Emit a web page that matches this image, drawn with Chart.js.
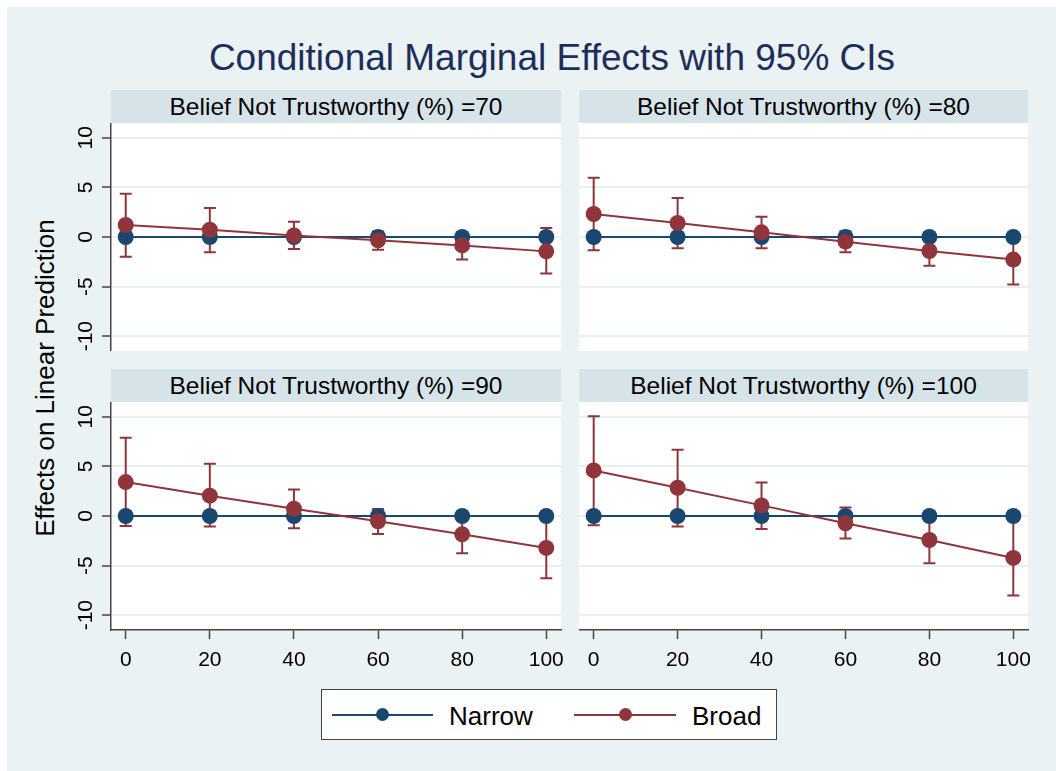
<!DOCTYPE html>
<html>
<head>
<meta charset="utf-8">
<script src="https://cdn.jsdelivr.net/npm/chart.js@4.4.1/dist/chart.umd.min.js"></script>
<style>
html,body{margin:0;padding:0;background:#fff;}
#root{position:relative;width:1056px;height:771px;overflow:hidden;font-family:"Liberation Sans",Arial,Helvetica,sans-serif;}
#bg{position:absolute;left:7px;top:7px;right:0;bottom:0;background:#eaf2f3;}
#title{position:absolute;left:52px;width:1000px;top:38.7px;height:37px;line-height:37px;text-align:center;font-size:37px;color:#1e2e5c;white-space:nowrap;}
.strip{position:absolute;height:33px;line-height:33px;background:#d6e4e9;text-align:center;font-size:24.5px;color:#000;white-space:nowrap;}
canvas{position:absolute;}
#ytitle{position:absolute;left:-155px;top:365px;width:400px;height:26px;line-height:26px;font-size:26px;text-align:center;transform:rotate(-90deg);transform-origin:200px 13px;color:#000;white-space:nowrap;}
#legend{position:absolute;left:321px;top:689px;width:456px;height:51px;background:#fff;border:1px solid #444;box-sizing:border-box;}
.lgline{position:absolute;height:2px;}
.lgdot{position:absolute;width:13px;height:13px;border-radius:50%;}
.lgtext{position:absolute;font-size:26px;line-height:26px;height:26px;color:#000;white-space:nowrap;}
</style>
</head>
<body>
<div id="root">
  <div id="bg"></div>
  <div id="title">Conditional Marginal Effects with 95% CIs</div>
  <div id="ytitle">Effects on Linear Prediction</div>
  <div id="legend"></div>
</div>
<script>
// ---------- data ----------
const xValues = [0, 20, 40, 60, 80, 100];
const xTicks = [0, 20, 40, 60, 80, 100];
const yTicks = [-10, -5, 0, 5, 10];
const seriesNames = ['Narrow', 'Broad'];
const seriesColors = ['#1a476f', '#90353b'];
const panelTitles = [
  'Belief Not Trustworthy (%) =70',
  'Belief Not Trustworthy (%) =80',
  'Belief Not Trustworthy (%) =90',
  'Belief Not Trustworthy (%) =100'
];

const narrow70  = [0, 0, 0, 0, 0, 0];
const narrow80  = [0, 0, 0, 0, 0, 0];
const narrow90  = [0, 0, 0, 0, 0, 0];
const narrow100 = [0, 0, 0, 0, 0, 0];

const broad70   = [1.21, 0.73, 0.16, -0.34, -0.85, -1.45];
const broad70Lo = [-1.98, -1.55, -1.21, -1.28, -2.26, -3.67];
const broad70Hi = [4.36, 2.92, 1.54, 0.56, 0.50, 0.90];

const broad80   = [2.32, 1.41, 0.47, -0.47, -1.41, -2.28];
const broad80Lo = [-1.34, -1.14, -1.14, -1.54, -2.89, -4.80];
const broad80Hi = [5.97, 3.93, 2.05, 0.57, 0.07, 0.24];

const broad90   = [3.42, 2.05, 0.74, -0.54, -1.85, -3.22];
const broad90Lo = [-1.01, -1.07, -1.24, -1.81, -3.76, -6.28];
const broad90Hi = [7.89, 5.27, 2.68, 0.70, 0.06, -0.16];

const broad100   = [4.60, 2.85, 1.07, -0.74, -2.42, -4.23];
const broad100Lo = [-0.94, -1.07, -1.31, -2.28, -4.77, -8.02];
const broad100Hi = [10.07, 6.68, 3.39, 0.87, -0.07, -0.44];

const panelData = [
  {narrow: narrow70,  broad: broad70,  lo: broad70Lo,  hi: broad70Hi},
  {narrow: narrow80,  broad: broad80,  lo: broad80Lo,  hi: broad80Hi},
  {narrow: narrow90,  broad: broad90,  lo: broad90Lo,  hi: broad90Hi},
  {narrow: narrow100, broad: broad100, lo: broad100Lo, hi: broad100Hi}
];

// ---------- layout ----------
const X_MIN = -3.5, X_MAX = 103.5, Y_MIN = -11.5, Y_MAX = 11.5;
const panelLayout = [
  {plotLeft: 111, plotRight: 561, plotTop: 123, leftAxis: true,  bottomAxis: false},
  {plotLeft: 579, plotRight: 1028, plotTop: 123, leftAxis: false, bottomAxis: false},
  {plotLeft: 111, plotRight: 561, plotTop: 402, leftAxis: true,  bottomAxis: true},
  {plotLeft: 579, plotRight: 1028, plotTop: 402, leftAxis: false, bottomAxis: true}
];
const PLOT_H = 228, Y_AXIS_W = 51, X_AXIS_H = 44, PAD_R = 20, STRIP_H = 33;
const AXIS_COLOR = '#444', GRID_COLOR = '#e6eff1';
const FONT = '"Liberation Sans", Arial, Helvetica, sans-serif';

const root = document.getElementById('root');

const decor = {
  id: 'decor',
  beforeDraw(chart) {
    const a = chart.chartArea, ctx = chart.ctx;
    ctx.save();
    ctx.fillStyle = '#ffffff';
    ctx.fillRect(a.left, a.top, a.right - a.left, a.bottom - a.top);
    ctx.restore();
  },
  beforeDatasetsDraw(chart) {
    const ctx = chart.ctx, xs = chart.scales.x, ys = chart.scales.y;
    chart.data.datasets.forEach(ds => {
      if (!ds.errLo) return;
      ctx.save();
      ctx.strokeStyle = ds.borderColor;
      ctx.lineWidth = 2;
      ds.data.forEach((p, i) => {
        const x = xs.getPixelForValue(p.x);
        const y1 = ys.getPixelForValue(ds.errLo[i]);
        const y2 = ys.getPixelForValue(ds.errHi[i]);
        ctx.beginPath();
        ctx.moveTo(x, y1); ctx.lineTo(x, y2);
        ctx.moveTo(x - 6, y1); ctx.lineTo(x + 6, y1);
        ctx.moveTo(x - 6, y2); ctx.lineTo(x + 6, y2);
        ctx.stroke();
      });
      ctx.restore();
    });
  },
  afterDraw(chart) {
    const ctx = chart.ctx, a = chart.chartArea;
    const o = chart.options.plugins.decor;
    ctx.save();
    ctx.fillStyle = '#000';
    ctx.font = '21px ' + FONT;
    if (o.leftAxis) {
      const ys = chart.scales.y;
      yTicks.forEach(v => {
        ctx.save();
        ctx.translate(a.left - 19, ys.getPixelForValue(v));
        ctx.rotate(-Math.PI / 2);
        ctx.textAlign = 'center';
        ctx.textBaseline = 'alphabetic';
        ctx.fillText(String(v), 0, 0);
        ctx.restore();
      });
    }
    if (o.bottomAxis) {
      const xs = chart.scales.x;
      ctx.textAlign = 'center';
      ctx.textBaseline = 'alphabetic';
      xTicks.forEach(v => {
        ctx.fillText(String(v), xs.getPixelForValue(v), a.bottom + 35.7);
      });
    }
    ctx.restore();
  }
};

panelData.forEach((pd, k) => {
  const L = panelLayout[k];
  const strip = document.createElement('div');
  strip.className = 'strip';
  strip.style.left = L.plotLeft + 'px';
  strip.style.top = (L.plotTop - STRIP_H) + 'px';
  strip.style.width = (L.plotRight - L.plotLeft) + 'px';
  strip.textContent = panelTitles[k];
  root.appendChild(strip);

  const yW = L.leftAxis ? Y_AXIS_W : 0;
  const xH = L.bottomAxis ? X_AXIS_H : 0;
  const cLeft = L.plotLeft - yW;
  const cW = L.plotRight - cLeft + PAD_R;
  const cH = PLOT_H + xH;
  const cv = document.createElement('canvas');
  cv.width = cW; cv.height = cH;
  cv.style.left = cLeft + 'px'; cv.style.top = L.plotTop + 'px';
  cv.style.width = cW + 'px'; cv.style.height = cH + 'px';
  root.appendChild(cv);

  const toPts = arr => arr.map((v, i) => ({x: xValues[i], y: v}));

  new Chart(cv.getContext('2d'), {
    type: 'line',
    data: {
      datasets: [
        {
          label: seriesNames[0], data: toPts(pd.narrow),
          borderColor: seriesColors[0], backgroundColor: seriesColors[0],
          borderWidth: 2, pointRadius: 8, pointBorderWidth: 0,
          pointBackgroundColor: seriesColors[0], tension: 0, order: 1
        },
        {
          label: seriesNames[1], data: toPts(pd.broad),
          errLo: pd.lo, errHi: pd.hi,
          borderColor: seriesColors[1], backgroundColor: seriesColors[1],
          borderWidth: 2, pointRadius: 8, pointBorderWidth: 0,
          pointBackgroundColor: seriesColors[1], tension: 0, order: 0
        }
      ]
    },
    options: {
      responsive: false, animation: false, devicePixelRatio: 1,
      layout: {autoPadding: false, padding: {left: 0, top: 0, bottom: 0, right: PAD_R}},
      plugins: {
        legend: {display: false}, tooltip: {enabled: false},
        decor: {leftAxis: L.leftAxis, bottomAxis: L.bottomAxis}
      },
      scales: {
        x: {
          type: 'linear', min: X_MIN, max: X_MAX,
          display: L.bottomAxis,
          afterBuildTicks: s => { s.ticks = xTicks.map(v => ({value: v})); },
          afterFit: s => { s.height = xH; },
          border: {display: true, color: AXIS_COLOR, width: 1.5},
          grid: {drawOnChartArea: false, drawTicks: true, tickLength: 9, tickColor: AXIS_COLOR, tickWidth: 1.5, color: AXIS_COLOR},
          ticks: {display: false}
        },
        y: {
          type: 'linear', min: Y_MIN, max: Y_MAX,
          display: true,
          afterBuildTicks: s => { s.ticks = yTicks.map(v => ({value: v})); },
          afterFit: s => { s.width = yW; },
          border: {display: L.leftAxis, color: AXIS_COLOR, width: 1.5},
          grid: {drawOnChartArea: true, color: GRID_COLOR, lineWidth: 2,
                 drawTicks: L.leftAxis, tickLength: 9, tickColor: AXIS_COLOR, tickWidth: 1.5},
          ticks: {display: false}
        }
      }
    },
    plugins: [decor]
  });
});

// ---------- legend ----------
const legend = document.getElementById('legend');
const legendItems = [
  {lineL: 332, lineR: 433, dot: 382, text: 449},
  {lineL: 574, lineR: 676, dot: 625, text: 692}
];
const LG_LEFT = 321 + 1, LG_TOP = 689 + 1, LG_CY = 714.5;
seriesNames.forEach((name, i) => {
  const it = legendItems[i];
  const ln = document.createElement('div');
  ln.className = 'lgline';
  ln.style.left = (it.lineL - LG_LEFT) + 'px';
  ln.style.width = (it.lineR - it.lineL) + 'px';
  ln.style.top = (LG_CY - 1 - LG_TOP) + 'px';
  ln.style.background = seriesColors[i];
  legend.appendChild(ln);
  const dot = document.createElement('div');
  dot.className = 'lgdot';
  dot.style.left = (it.dot - 6.5 - LG_LEFT) + 'px';
  dot.style.top = (LG_CY - 6.5 - LG_TOP) + 'px';
  dot.style.background = seriesColors[i];
  legend.appendChild(dot);
  const tx = document.createElement('div');
  tx.className = 'lgtext';
  tx.style.left = (it.text - LG_LEFT) + 'px';
  tx.style.top = (703 - LG_TOP) + 'px';
  tx.textContent = name;
  legend.appendChild(tx);
});
</script>
</body>
</html>
